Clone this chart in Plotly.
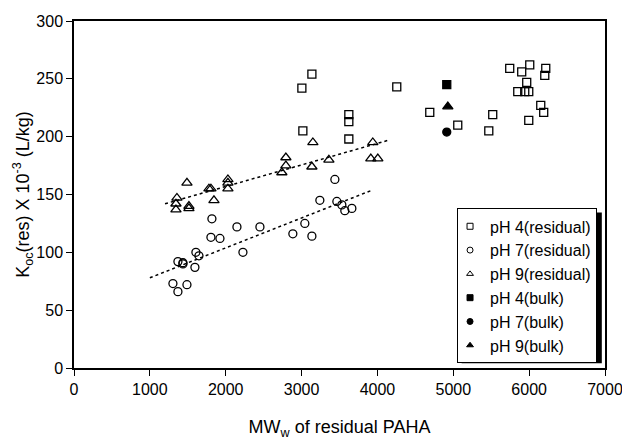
import plotly.graph_objects as go

# pH 4 (residual)
ph4_x = [3004, 3136, 3017, 4255, 3623, 3623, 3623, 4690, 5059, 5520, 5468,
         5744, 5902, 6008, 6219, 6206, 5968, 5850, 5942, 5995, 6153, 6192, 5995]
ph4_y = [242, 254, 205, 243, 219, 213, 198, 221, 210, 219, 205,
         259, 256, 262, 259, 253, 247, 239, 239, 239, 227, 221, 214]

# pH 7 (residual)
ph7_x = [1304, 1370, 1370, 1436, 1436, 1489, 1594, 1607, 1647, 1805, 1818,
         1924, 2148, 2227, 2451, 2885, 3043, 3136, 3439, 3241, 3465, 3531, 3570, 3663]
ph7_y = [73, 66, 92, 90, 91, 72, 87, 100, 97, 113, 129,
         112, 122, 100, 122, 116, 125, 114, 163, 145, 144, 141, 136, 138]

# pH 9 (residual)
ph9_x = [1344, 1344, 1357, 1489, 1515, 1515, 1779, 1805, 1845, 2029, 2029, 2029,
         2740, 2793, 2793, 3136, 3149, 3360, 3939, 3913, 4005]
ph9_y = [137, 142, 147, 160, 138, 140, 155, 155, 145, 163, 160, 155,
         169, 182, 175, 174, 195, 180, 195, 181, 181]

# bulk
bulk4_x, bulk4_y = [4914], [245]
bulk7_x, bulk7_y = [4914], [204]
bulk9_x, bulk9_y = [4928], [226]

# dotted trend lines
trend9_x, trend9_y = [1200, 4150], [142, 197]
trend7_x, trend7_y = [1000, 3940], [78, 154]

FONT = "Liberation Sans, Arial, sans-serif"

fig = go.Figure()

for tx, ty in [(trend9_x, trend9_y), (trend7_x, trend7_y)]:
    fig.add_trace(go.Scatter(x=tx, y=ty, mode="lines", showlegend=False,
                             line=dict(color="black", width=1.5, dash="dot")))

series = [
    ("pH 4(residual)", ph4_x, ph4_y, "square-open", 8),
    ("pH 7(residual)", ph7_x, ph7_y, "circle-open", 8),
    ("pH 9(residual)", ph9_x, ph9_y, "triangle-up-open", 9),
    ("pH 4(bulk)", bulk4_x, bulk4_y, "square", 8),
    ("pH 7(bulk)", bulk7_x, bulk7_y, "circle", 8),
    ("pH 9(bulk)", bulk9_x, bulk9_y, "triangle-up", 9),
]
for name, sx, sy, sym, size in series:
    fig.add_trace(go.Scatter(x=sx, y=sy, mode="markers", name=name, showlegend=False,
                             marker=dict(symbol=sym, size=size, color="black",
                                         line=dict(color="black", width=1.3))))
    # small legend-only marker, as in the original legend
    fig.add_trace(go.Scatter(x=[None], y=[None], mode="markers", name=name,
                             marker=dict(symbol=sym, size=6, color="black",
                                         line=dict(color="black", width=1))))

# legend drop shadow
fig.add_shape(type="rect", xref="paper", yref="paper",
              x0=0.73, x1=0.994, y0=0.014, y1=0.448,
              fillcolor="black", line=dict(width=0), layer="above")

fig.update_layout(
    width=622, height=440,
    margin=dict(l=74, r=17, t=21, b=72),
    paper_bgcolor="white", plot_bgcolor="white",
    font=dict(family=FONT, size=16, color="black"),
    xaxis=dict(range=[0, 7000], dtick=1000, showgrid=False, zeroline=False,
               showline=True, linecolor="black", linewidth=1.5, mirror=True,
               ticks="outside", ticklen=6, tickcolor="black",
               tickfont=dict(size=16), automargin=False, ticklabeloverflow="allow",
               title=dict(text="MW<sub>w</sub> of residual PAHA", standoff=32,
                          font=dict(size=18))),
    yaxis=dict(range=[0, 300], dtick=50, showgrid=False, zeroline=False,
               showline=True, linecolor="black", linewidth=1.5, mirror=True,
               ticks="outside", ticklen=6, tickcolor="black",
               tickfont=dict(size=16), automargin=False,
               title=dict(text="K<sub>oc</sub>(res) X 10<sup>-3</sup> (L/kg)",
                          standoff=2, font=dict(size=18))),
    legend=dict(x=0.985, y=0.46, xanchor="right", yanchor="top",
                bgcolor="white", bordercolor="black", borderwidth=1,
                font=dict(size=16), tracegroupgap=0, indentation=-8,
                itemwidth=30),
)

fig.write_html("out.html", config={"displayModeBar": False},
               post_script="document.body.style.margin='0';")
